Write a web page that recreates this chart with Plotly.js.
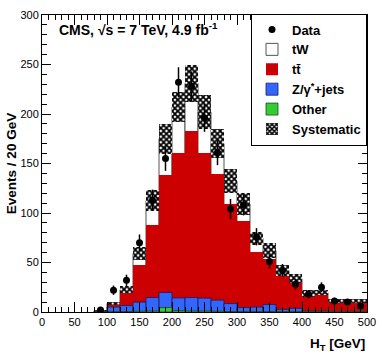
<!DOCTYPE html>
<html>
<head>
<meta charset="utf-8">
<script src="https://cdn.plot.ly/plotly-3.0.1.min.js"></script>
<style>html,body{margin:0;padding:0;background:#fff;}</style>
</head>
<body>
<div id="chart" style="width:382px;height:354px;"></div>
<script>
// Bin centres of the 20 GeV H_T bins (GeV)
var binCenters = [90,110,130,150,170,190,210,230,250,270,290,310,330,350,370,390,410,430,450,470,490];
// Observed data (events per bin)
var dataCounts = [2,22,32,70,113,155,232,228,196,161,104,108,76,51,42,28,18,25,11,10,6];
// Simulated contributions (events per bin)
var otherMC = [0,0.3,0.5,0.8,1.0,4.5,1.5,1.0,1.0,0.8,0.5,0.5,0.5,0.5,0.3,0.3,0.3,0.3,0.2,0.2,0.2];
var zjetsMC = [0.5,4.7,6.0,9.2,13.6,15.2,12.7,13.6,13.0,11.2,8.0,4.0,4.5,7.0,2.4,3.4,0.7,0.7,0.3,0.3,0.3];
var ttbarMC = [0.5,2.5,12.2,37.5,73.4,118.3,146.8,168.4,147.0,127.0,100.5,87.9,56.0,46.5,33.3,25.3,14.2,16.0,8.5,8.5,8.5];
var tWMC    = [0.2,1.0,3.8,11.5,24.6,37.0,46.0,48.0,41.0,31.0,23.0,16.6,13.5,8.0,6.0,4.5,3.5,2.5,2.4,2.0,2.0];
// Systematic uncertainty (half-width of band) on the total prediction
var systErr = [0.5,1.7,3.8,6.7,10.8,15.2,15.2,18.6,17.3,14.4,12.2,11.0,6.8,7.6,5.6,4.7,3.4,2.5,2.2,2.0,2.0];
var xTicks = [0,50,100,150,200,250,300,350,400,450,500];
var yTicks = [0,50,100,150,200,250,300];

// cumulative stack
function add(a,b){return a.map(function(v,i){return v+b[i];});}
var cumOther = otherMC.slice();
var cumZ = add(cumOther, zjetsMC);
var cumTT = add(cumZ, ttbarMC);
var cumTot = add(cumTT, tWMC);
var bandBase = cumTot.map(function(v,i){return v - systErr[i];});
var bandH = systErr.map(function(v){return 2*v;});

var FONT = 'Liberation Sans, Arial, Helvetica, sans-serif';

var traces = [
  {type:'bar', x:binCenters, y:cumTot, name:'tW', legendrank:2,
   marker:{color:'#ffffff', line:{color:'#555555', width:1}}},
  {type:'bar', x:binCenters, y:cumTT, name:'tt\u0304', legendrank:3,
   marker:{color:'#cc0000', line:{color:'#cc0000', width:0}}},
  {type:'bar', x:binCenters, y:cumZ, name:'Z/\u03b3<sup>*</sup>+jets', legendrank:4,
   marker:{color:'#3366ff', line:{color:'#1a1a55', width:0.8}}},
  {type:'bar', x:binCenters, y:cumOther, name:'Other', legendrank:5,
   marker:{color:'#33cc33', line:{color:'#1a4d1a', width:0.8}}},
  {type:'bar', x:binCenters, y:bandH, base:bandBase, name:'Systematic', legendrank:6,
   marker:{color:'#ffffff', line:{width:0},
     pattern:{shape:'x', fgcolor:'#000000', bgcolor:'#ffffff', size:4, solidity:0.7}}},
  {type:'scatter', mode:'markers', x:binCenters, y:dataCounts, name:'Data', legendrank:1,
   marker:{color:'#000000', size:7, symbol:'circle'},
   error_y:{type:'sqrt', visible:true, color:'#000000', thickness:1.5, width:0}}
];

var axisCommon = {
  ticks:'inside', tickcolor:'#000', tickwidth:1,
  showline:true, linecolor:'#000', linewidth:1, mirror:'ticks',
  showgrid:false, zeroline:false,
  tickfont:{family:FONT, size:11, color:'#000'}
};

var layout = {
  width:382, height:354,
  margin:{l:42, r:15, t:15, b:42, pad:0},
  paper_bgcolor:'#ffffff', plot_bgcolor:'#ffffff',
  barmode:'overlay', bargap:0,
  showlegend:true,
  legend:{x:1, xanchor:'right', y:1.005, yanchor:'top', bgcolor:'#ffffff',
    bordercolor:'#000', borderwidth:1, tracegroupgap:0, itemwidth:30,
    font:{family:FONT, size:13, color:'#000', weight:'bold'}},
  xaxis:Object.assign({}, axisCommon, {range:[0,500], tickvals:xTicks, ticklen:10,
    minor:{dtick:10, tick0:0, ticklen:5, ticks:'inside', tickcolor:'#000', showgrid:false}}),
  yaxis:Object.assign({}, axisCommon, {range:[0,300], tickvals:yTicks, ticklen:9,
    minor:{dtick:10, tick0:0, ticklen:5, ticks:'inside', tickcolor:'#000', showgrid:false},
    title:{text:'Events / 20 GeV', standoff:0, font:{family:FONT, size:13.5, color:'#000', weight:'bold'}}}),
  annotations:[
    {xref:'paper', yref:'paper', x:0.045, y:0.99, xanchor:'left', yanchor:'top', showarrow:false,
     text:'CMS, \u221as = 7 TeV, 4.9 fb<sup>-1</sup>',
     font:{family:FONT, size:14, color:'#000', weight:'bold'}},
    {xref:'paper', yref:'paper', x:1, y:-0.075, xanchor:'right', yanchor:'top', showarrow:false,
     text:'H<sub>T</sub> [GeV]',
     font:{family:FONT, size:13.5, color:'#000', weight:'bold'}}
  ]
};

Plotly.newPlot('chart', traces, layout, {displayModeBar:false, staticPlot:true});
</script>
</body>
</html>
